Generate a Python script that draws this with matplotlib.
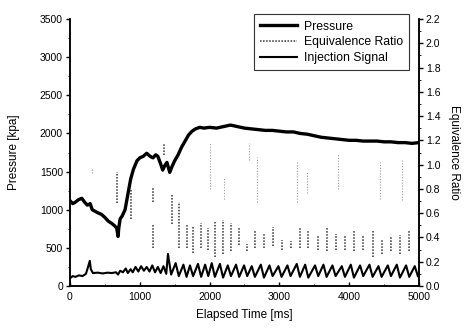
import matplotlib
matplotlib.use("Agg")
import matplotlib.pyplot as plt
from matplotlib.ticker import MultipleLocator

plt.rcParams["font.family"] = ["Liberation Sans", "DejaVu Sans"]

# pressure trace (left axis, kPa)
pressure_t = [0, 40, 80, 120, 170, 210, 250, 290, 320, 360, 400, 450, 500, 550,
              600, 640, 670, 690, 700, 720, 750, 790, 830, 870, 910, 960, 1000,
              1050, 1100, 1150, 1190, 1230, 1260, 1300, 1330, 1360, 1390, 1430,
              1460, 1500, 1550, 1600, 1650, 1700, 1750, 1800, 1860, 1920, 2000,
              2100, 2200, 2300, 2400, 2500, 2600, 2700, 2800, 2900, 3000, 3100,
              3200, 3300, 3400, 3500, 3600, 3700, 3800, 3900, 4000, 4100, 4200,
              4300, 4400, 4500, 4600, 4700, 4800, 4900, 5000]
pressure_kpa = [1120, 1080, 1100, 1130, 1150, 1100, 1060, 1080, 1000, 980, 960,
                940, 900, 850, 820, 790, 760, 650, 760, 880, 920, 1000, 1200,
                1400, 1530, 1640, 1680, 1700, 1740, 1700, 1680, 1720, 1700, 1600,
                1520, 1580, 1620, 1490, 1560, 1640, 1720, 1820, 1900, 1980, 2030,
                2060, 2080, 2070, 2080, 2070, 2090, 2110, 2090, 2070, 2060, 2050,
                2040, 2040, 2030, 2020, 2020, 2000, 1990, 1970, 1950, 1940, 1930,
                1920, 1910, 1910, 1900, 1900, 1900, 1890, 1890, 1880, 1880, 1870,
                1880]

# low oscillating trace (left axis, kPa): start-up part
osc_t = [0, 40, 80, 130, 180, 230, 260, 285, 300, 330, 400, 470, 540, 600, 660,
         690, 720, 760, 800, 830, 870, 900, 940, 980, 1020, 1060, 1100, 1140,
         1180, 1220, 1260, 1300, 1340, 1380]
osc_kpa = [100, 130, 120, 140, 130, 160, 250, 330, 220, 170, 175, 165, 175, 170,
           180, 150, 200, 180, 230, 170, 220, 180, 250, 190, 260, 200, 250, 190,
           270, 180, 250, 170, 260, 160]
# regular cycles: peak before each cycle time, trough at it
cycle_t = [1450, 1560, 1671, 1765, 1880, 1982, 2077, 2194, 2307, 2425, 2540,
           2650, 2780, 2904, 3032, 3161, 3295, 3415, 3557, 3677, 3806, 3940,
           4069, 4202, 4336, 4465, 4599, 4728, 4861, 4985]
cycle_hi = [420, 300, 280, 270, 290, 280, 300, 290, 270, 280, 270, 260, 280, 270,
            260, 270, 290, 280, 270, 280, 270, 260, 280, 270, 280, 260, 270, 280,
            270, 260]
cycle_lo = [150, 130, 120, 130, 120, 130, 120, 110, 130, 120, 130, 120, 110, 130,
            120, 130, 120, 110, 130, 120, 130, 120, 110, 130, 120, 120, 130, 110,
            120, 130]

# equivalence ratio bursts (right axis): time, bottom, top
eq_t = [670, 869, 1184, 1190, 1347, 1465, 1560, 1671, 1765, 1880, 1982, 2077,
        2194, 2307, 2425, 2540, 2650, 2780, 2904, 3032, 3161, 3295, 3415, 3557,
        3677, 3806, 3940, 4069, 4202, 4336, 4465, 4599, 4728, 4861]
eq_lo = [0.68, 0.55, 0.31, 0.69, 1.08, 0.51, 0.31, 0.31, 0.27, 0.31, 0.30, 0.24,
         0.26, 0.29, 0.34, 0.29, 0.31, 0.31, 0.33, 0.30, 0.31, 0.31, 0.31, 0.30,
         0.29, 0.30, 0.30, 0.29, 0.30, 0.24, 0.26, 0.29, 0.26, 0.29]
eq_hi = [0.94, 0.80, 0.51, 0.81, 1.18, 0.75, 0.69, 0.51, 0.49, 0.52, 0.48, 0.53,
         0.54, 0.52, 0.48, 0.35, 0.46, 0.43, 0.49, 0.38, 0.37, 0.48, 0.45, 0.41,
         0.48, 0.43, 0.41, 0.45, 0.42, 0.46, 0.39, 0.41, 0.42, 0.45]
# fainter upper bursts
eq2_t = [310, 2006, 2206, 2570, 2684, 3257, 3390, 3845, 4441, 4761]
eq2_lo = [0.93, 0.80, 0.72, 1.04, 0.69, 0.69, 0.77, 0.80, 0.72, 0.71]
eq2_hi = [0.97, 1.18, 0.90, 1.18, 1.06, 1.02, 0.94, 1.10, 1.02, 1.04]


def main() -> None:
    fig = plt.figure(figsize=(4.66, 3.28), dpi=100)
    ax = fig.add_axes([0.150, 0.128, 0.749, 0.814])
    ax2 = ax.twinx()

    # build the zigzag for the low trace
    low_t = list(osc_t)
    low_v = list(osc_kpa)
    for t, hi, lo in zip(cycle_t, cycle_hi, cycle_lo):
        low_t += [t - 45, t]
        low_v += [hi, lo]

    inj_line, = ax.plot(low_t, low_v, color="black", lw=1.5)
    p_line, = ax.plot(pressure_t, pressure_kpa, color="black", lw=2.4)

    ax2.vlines(eq2_t, eq2_lo, eq2_hi, colors="#9a9a9a", linestyles=(0, (1, 1.5)), lw=0.8)
    ax2.vlines(eq_t, eq_lo, eq_hi, colors="#333333", linestyles=(0, (1, 1)), lw=1.1)
    eq_line, = ax2.plot([], [], color="#333333", ls=(0, (1, 1)), lw=1.1)

    ax.set_xlim(0, 5000)
    ax.set_ylim(0, 3500)
    ax2.set_ylim(0, 2.2)

    ax.xaxis.set_major_locator(MultipleLocator(1000))
    ax.xaxis.set_minor_locator(MultipleLocator(500))
    ax.yaxis.set_major_locator(MultipleLocator(500))
    ax.yaxis.set_minor_locator(MultipleLocator(250))
    ax2.yaxis.set_major_locator(MultipleLocator(0.2))
    ax2.yaxis.set_minor_locator(MultipleLocator(0.1))
    ax2.yaxis.set_major_formatter(lambda v, pos: f"{v:.1f}")

    ax.tick_params(axis="y", direction="out", length=3, width=1, labelsize=7.5, pad=2)
    ax.tick_params(axis="y", which="minor", direction="out", length=1.5)
    ax.tick_params(axis="x", direction="in", length=3, width=1, labelsize=7.5, pad=4)
    ax.tick_params(axis="x", which="minor", direction="in", length=1.5)
    ax2.tick_params(axis="y", direction="out", length=3, width=1, labelsize=7.5, pad=2)
    ax2.tick_params(axis="y", which="minor", direction="out", length=1.5)

    for a in (ax, ax2):
        for s in a.spines.values():
            s.set_linewidth(1.1)
    ax.spines["top"].set_visible(False)
    ax2.spines["top"].set_visible(False)

    ax.set_xlabel("Elapsed Time [ms]", fontsize=8.5, labelpad=5)
    ax.set_ylabel("Pressure [kpa]", fontsize=8.5, labelpad=14)
    ax2.set_ylabel("Equivalence Ratio", fontsize=8.5, rotation=270, labelpad=14)

    leg = ax.legend([p_line, eq_line, inj_line],
                    ["Pressure", "Equivalence Ratio", "Injection Signal"],
                    loc="upper right", bbox_to_anchor=(0.99, 1.04),
                    fontsize=8.8, frameon=True, fancybox=False, handlelength=3.0,
                    handletextpad=0.6, labelspacing=0.3, borderpad=0.5)
    leg.get_frame().set_edgecolor("black")
    leg.get_frame().set_linewidth(0.8)
    leg.set_zorder(5)

    fig.savefig("out.png", dpi=100)
    plt.close(fig)


if __name__ == "__main__":
    main()
